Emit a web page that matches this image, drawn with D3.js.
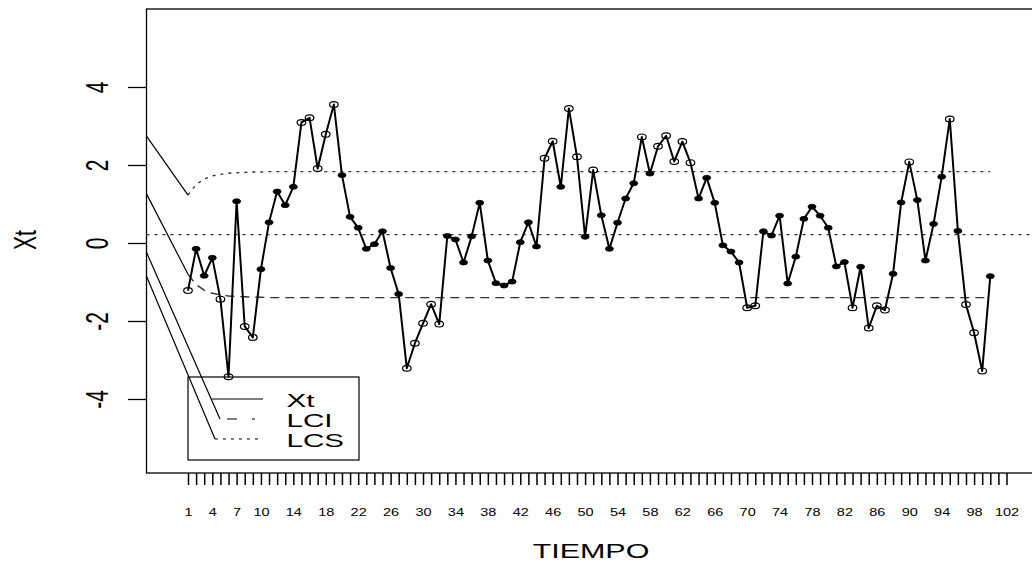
<!DOCTYPE html>
<html>
<head>
<meta charset="utf-8">
<script src="https://cdn.jsdelivr.net/npm/d3@7"></script>
<style>
  body { margin: 0; background: #fff; }
  text { font-family: "Liberation Sans", Arial, sans-serif; fill: #000; }
</style>
</head>
<body>
<div class="chart"></div>
<script>
// series
var xtVals = [-1.22,-0.15,-0.84,-0.38,-1.44,-3.43,1.07,-2.14,-2.42,-0.67,
              0.53,1.32,0.97,1.44,3.09,3.21,1.91,2.79,3.55,1.74,
              0.67,0.39,-0.15,-0.03,0.30,-0.64,-1.31,-3.21,-2.57,-2.06,
              -1.57,-2.08,0.18,0.09,-0.50,0.17,1.03,-0.45,-1.03,-1.09,
              -0.99,0.02,0.53,-0.09,2.17,2.61,1.44,3.45,2.21,0.16,
              1.87,0.71,-0.15,0.52,1.14,1.53,2.72,1.78,2.48,2.75,
              2.09,2.60,2.06,1.14,1.67,1.03,-0.06,-0.22,-0.50,-1.66,
              -1.61,0.30,0.19,0.70,-1.04,-0.35,0.62,0.93,0.70,0.39,
              -0.60,-0.49,-1.66,-0.61,-2.18,-1.61,-1.72,-0.79,1.04,2.08,
              1.10,-0.45,0.49,1.70,3.18,0.31,-1.58,-2.30,-3.28,-0.85];
var lcsVals = [1.23,1.50,1.64,1.72,1.76,1.79,1.80,1.81,1.82,1.82,
               1.83,1.83,1.83,1.83,1.83,1.83,1.83,1.83,1.83,1.83,
               1.83,1.83,1.83,1.83,1.83,1.83,1.83,1.83,1.83,1.83,
               1.83,1.83,1.83,1.83,1.83,1.83,1.83,1.83,1.83,1.83,
               1.83,1.83,1.83,1.83,1.83,1.83,1.83,1.83,1.83,1.83,
               1.83,1.83,1.83,1.83,1.83,1.83,1.83,1.83,1.83,1.83,
               1.83,1.83,1.83,1.83,1.83,1.83,1.83,1.83,1.83,1.83,
               1.83,1.83,1.83,1.83,1.83,1.83,1.83,1.83,1.83,1.83,
               1.83,1.83,1.83,1.83,1.83,1.83,1.83,1.83,1.83,1.83,
               1.83,1.83,1.83,1.83,1.83,1.83,1.83,1.83,1.83,1.83];
var lciVals = [-0.80,-1.07,-1.21,-1.29,-1.33,-1.36,-1.37,-1.38,-1.39,-1.39,
               -1.40,-1.40,-1.40,-1.40,-1.40,-1.40,-1.40,-1.40,-1.40,-1.40,
               -1.40,-1.40,-1.40,-1.40,-1.40,-1.40,-1.40,-1.40,-1.40,-1.40,
               -1.40,-1.40,-1.40,-1.40,-1.40,-1.40,-1.40,-1.40,-1.40,-1.40,
               -1.40,-1.40,-1.40,-1.40,-1.40,-1.40,-1.40,-1.40,-1.40,-1.40,
               -1.40,-1.40,-1.40,-1.40,-1.40,-1.40,-1.40,-1.40,-1.40,-1.40,
               -1.40,-1.40,-1.40,-1.40,-1.40,-1.40,-1.40,-1.40,-1.40,-1.40,
               -1.40,-1.40,-1.40,-1.40,-1.40,-1.40,-1.40,-1.40,-1.40,-1.40,
               -1.40,-1.40,-1.40,-1.40,-1.40,-1.40,-1.40,-1.40,-1.40,-1.40,
               -1.40,-1.40,-1.40,-1.40,-1.40,-1.40,-1.40,-1.40,-1.40,-1.40];
var centerVal = 0.215;
// values where the stray lines leave the left frame
var leaderStarts = [2.74, 1.26, -0.24, -0.85];

var xTicks = d3.range(1, 103);
var xLabels = [1,4,7,10,14,18,22,26,30,34,38,42,46,50,54,58,62,66,70,74,78,82,86,90,94,98,102];
var yTicks = [-4,-2,0,2,4];
var legendNames = ["Xt","LCI","LCS"];

var W = 1032, H = 565;
var stretch = 1.45;
var frame = {left: 146.5, top: 9, right: 1040, bottom: 473};

var svg = d3.select("div.chart")
            .append("svg")
            .attr("width", W)
            .attr("height", H);

var x = d3.scaleLinear().domain([1, 102]).range([188, 1006.5]);
var y = d3.scaleLinear().domain([-4, 4]).range([399, 87]);

svg.append("clipPath").attr("id", "clip")
   .append("rect")
   .attr("x", frame.left).attr("y", frame.top)
   .attr("width", frame.right - frame.left)
   .attr("height", frame.bottom - frame.top);

//legend box (drawn first, no fill, like R)
var lg = {x0: 188, y0: 377, x1: 359, y1: 460, lineX1: 212, lineX2: 263, textX: 286.5};
var rowY = [399, 419, 439];
svg.append("rect")
   .attr("x", lg.x0).attr("y", lg.y0)
   .attr("width", lg.x1 - lg.x0).attr("height", lg.y1 - lg.y0)
   .attr("fill", "none").attr("stroke", "#000").attr("stroke-width", 1.2);

var plot = svg.append("g").attr("clip-path", "url(#clip)");

//center line
plot.append("line")
    .attr("x1", frame.left).attr("x2", frame.right)
    .attr("y1", y(centerVal)).attr("y2", y(centerVal))
    .attr("stroke", "#333").attr("stroke-width", 1.4)
    .attr("stroke-dasharray", "3,5");

var limLine = d3.line()
    .x(function(d, i){ return x(i + 1); })
    .y(function(d){ return y(d); });

plot.append("path").datum(lcsVals)
    .attr("d", limLine).attr("fill", "none")
    .attr("stroke", "#333").attr("stroke-width", 1.4)
    .attr("stroke-dasharray", "3,5");

plot.append("path").datum(lciVals)
    .attr("d", limLine).attr("fill", "none")
    .attr("stroke", "#333").attr("stroke-width", 1.4)
    .attr("stroke-dasharray", "9,6");

//Xt series
plot.append("path").datum(xtVals)
    .attr("d", limLine).attr("fill", "none")
    .attr("stroke", "#000").attr("stroke-width", 2)
    .attr("stroke-linejoin", "round");

var pts = xtVals.map(function(v, i){
    return {i: i + 1, v: v, out: v > lcsVals[i] || v < lciVals[i]};
});

plot.selectAll(".pt")
    .data(pts)
    .enter()
    .append("ellipse")
        .attr("cx", function(d){ return x(d.i); })
        .attr("cy", function(d){ return y(d.v); })
        .attr("rx", function(d){ return d.out ? 4.3 : 4; })
        .attr("ry", function(d){ return d.out ? 2.9 : 2.5; })
        .attr("fill", function(d){ return d.out ? "none" : "#000"; })
        .attr("stroke", "#000")
        .attr("stroke-width", function(d){ return d.out ? 1.2 : 0.8; });

//legend entries
svg.append("line")
   .attr("x1", lg.lineX1).attr("x2", lg.lineX2)
   .attr("y1", rowY[0]).attr("y2", rowY[0])
   .attr("stroke", "#000").attr("stroke-width", 1.2);
svg.append("line")
   .attr("x1", 220).attr("x2", 255)
   .attr("y1", rowY[1]).attr("y2", rowY[1])
   .attr("stroke", "#000").attr("stroke-width", 1.2)
   .attr("stroke-dasharray", "0,7,10,8");
svg.append("line")
   .attr("x1", 215).attr("x2", 258)
   .attr("y1", rowY[2]).attr("y2", rowY[2])
   .attr("stroke", "#000").attr("stroke-width", 1.2)
   .attr("stroke-dasharray", "3,5");

legendNames.forEach(function(n, k){
    svg.append("text")
       .attr("transform", "translate(" + lg.textX + "," + (rowY[k] + 7.5) + ") scale(1.6,1)")
       .attr("font-size", 18.5)
       .text(n);
});

//stray lines from the left frame edge
var leaderEnds = [
    [x(1), y(lcsVals[0])],
    [x(1), y(lciVals[0])],
    [220, rowY[1]],
    [215, rowY[2]]
];
leaderStarts.forEach(function(v, k){
    svg.append("line")
       .attr("x1", frame.left).attr("y1", y(v))
       .attr("x2", leaderEnds[k][0]).attr("y2", leaderEnds[k][1])
       .attr("stroke", "#000").attr("stroke-width", 1.2);
});

//frame
svg.append("rect")
   .attr("x", frame.left).attr("y", frame.top)
   .attr("width", frame.right - frame.left)
   .attr("height", frame.bottom - frame.top)
   .attr("fill", "none").attr("stroke", "#000").attr("stroke-width", 1.3);

//x axis
var xAxis = svg.append("g")
    .attr("transform", "translate(0," + frame.bottom + ")")
    .call(d3.axisBottom(x).tickValues(xTicks).tickSize(12)
          .tickFormat(function(d){ return xLabels.indexOf(d) >= 0 ? d : ""; }));
xAxis.select(".domain").remove();
xAxis.selectAll(".tick line").attr("stroke", "#000").attr("stroke-width", 1.5);
xAxis.selectAll(".tick text")
     .attr("font-size", 10)
     .attr("font-family", "Liberation Sans, Arial, sans-serif")
     .attr("dy", 0).attr("y", 43)
     .attr("transform", "scale(" + stretch + ",1)");

//y axis, R style hyphen minus
var yAxis = svg.append("g")
    .attr("transform", "translate(" + frame.left + ",0)")
    .call(d3.axisLeft(y).tickValues(yTicks).tickSize(18.5)
          .tickFormat(function(d){ return String(d); }));
yAxis.select(".domain").remove();
yAxis.selectAll(".tick line").attr("stroke", "#000").attr("stroke-width", 1.3);
yAxis.selectAll(".tick text")
     .attr("font-size", 21)
     .attr("font-family", "Liberation Sans, Arial, sans-serif")
     .attr("x", 0).attr("y", 0).attr("dy", 0)
     .attr("text-anchor", "middle")
     .attr("transform", "translate(-38.5,0) scale(" + stretch + ",1) rotate(-90)");

//axis titles
svg.append("text")
   .attr("transform", "translate(591,558) scale(" + stretch + ",1)")
   .attr("text-anchor", "middle").attr("font-size", 21)
   .text("TIEMPO");
svg.append("text")
   .attr("transform", "translate(36,240) scale(" + stretch + ",1) rotate(-90)")
   .attr("text-anchor", "middle").attr("font-size", 21)
   .text("Xt");
</script>
</body>
</html>
